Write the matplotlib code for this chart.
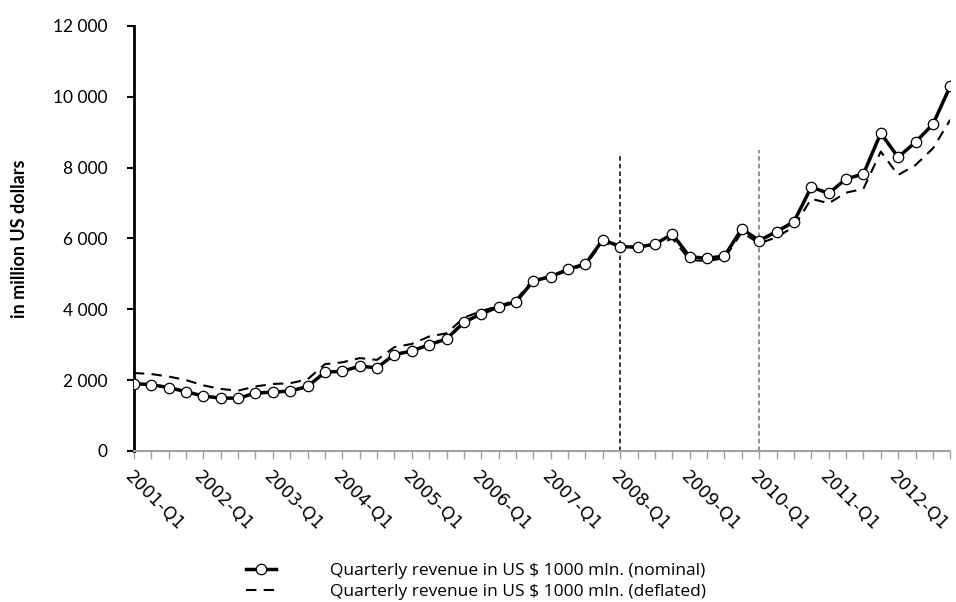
import numpy as np
import matplotlib.pyplot as plt

# quarters 2001-Q1 .. 2012-Q4
years = list(range(2001, 2013))
quarters = [f"{y}-Q{q}" for y in years for q in range(1, 5)]

nominal = [1900, 1870, 1790, 1670, 1550, 1490, 1490, 1630, 1660, 1690, 1820, 2220,
           2250, 2390, 2350, 2720, 2820, 3000, 3160, 3630, 3870, 4070, 4210, 4800,
           4920, 5130, 5280, 5960, 5770, 5750, 5840, 6120, 5480, 5440, 5500, 6270,
           5940, 6190, 6470, 7450, 7270, 7680, 7820, 8970, 8290, 8720, 9220, 10300]

deflated = [2200, 2170, 2100, 2000, 1850, 1750, 1700, 1820, 1890, 1910, 2020, 2450,
            2500, 2620, 2570, 2930, 3020, 3230, 3320, 3760, 3950, 4090, 4260, 4860,
            4900, 5100, 5250, 5900, 5710, 5700, 5780, 6000, 5390, 5360, 5440, 6170,
            5860, 6030, 6330, 7120, 6990, 7290, 7400, 8450, 7790, 8070, 8540, 9350]

# vertical marker lines: (quarter index, top value, colour)
vlines = [(quarters.index("2008-Q1"), 8400, "black"),
          (quarters.index("2010-Q1"), 8500, "#707070")]

fig = plt.figure(figsize=(9.56, 6.02), dpi=100)
ax = fig.add_axes([0.140, 0.251, 0.854, 0.706])

x = np.arange(len(quarters))

ax.plot(x, deflated, color="black", lw=1.5, linestyle=(0, (5, 3.5)),
        label="Quarterly revenue in US $ 1000 mln. (deflated)", zorder=3)
ax.plot(x, nominal, color="black", lw=2.5, marker="o", markersize=7.5,
        markerfacecolor="white", markeredgecolor="black", markeredgewidth=0.9,
        label="Quarterly revenue in US $ 1000 mln. (nominal)", zorder=4)

for xi, top, col in vlines:
    ax.plot([xi, xi], [0, top], color=col, lw=1.1, linestyle=(0, (3, 2)), zorder=2)

ax.set_xlim(0, len(quarters) - 1)
ax.set_ylim(0, 12000)

yt = list(range(0, 12001, 2000))
ax.set_yticks(yt)
ax.set_yticklabels([f"{v:,}".replace(",", " ") for v in yt],
                   fontsize=12.5, family=["Lato", "DejaVu Sans"])
ax.tick_params(axis="y", direction="out", length=5, width=1.5, color="black", pad=14)

ax.set_xticks(x, minor=True)
major = [i for i, q in enumerate(quarters) if q.endswith("Q1")]
ax.set_xticks(major)
ax.set_xticklabels([quarters[i] for i in major], rotation=-45, ha="left",
                   va="top", rotation_mode="anchor", fontsize=12.5)
ax.tick_params(axis="x", which="both", direction="out", length=6, width=1,
               color="#a0a0a0", pad=6)

for s in ["top", "right"]:
    ax.spines[s].set_visible(False)
ax.spines["left"].set_linewidth(2)
ax.spines["bottom"].set_color("#a0a0a0")
ax.spines["bottom"].set_linewidth(1.5)

ax.set_ylabel("in million US dollars", fontsize=13, fontweight="bold",
              family=["Lato", "DejaVu Sans"], labelpad=18)

handles, labels = ax.get_legend_handles_labels()
fig.legend(handles[::-1], labels[::-1], loc="center", bbox_to_anchor=(0.498, 0.034),
           frameon=False, ncol=1, handlelength=1.7, handletextpad=3.1, labelspacing=0.28,
           prop={"family": ["Open Sans", "DejaVu Sans"], "size": 12.5})

fig.savefig("out.png", dpi=100)
